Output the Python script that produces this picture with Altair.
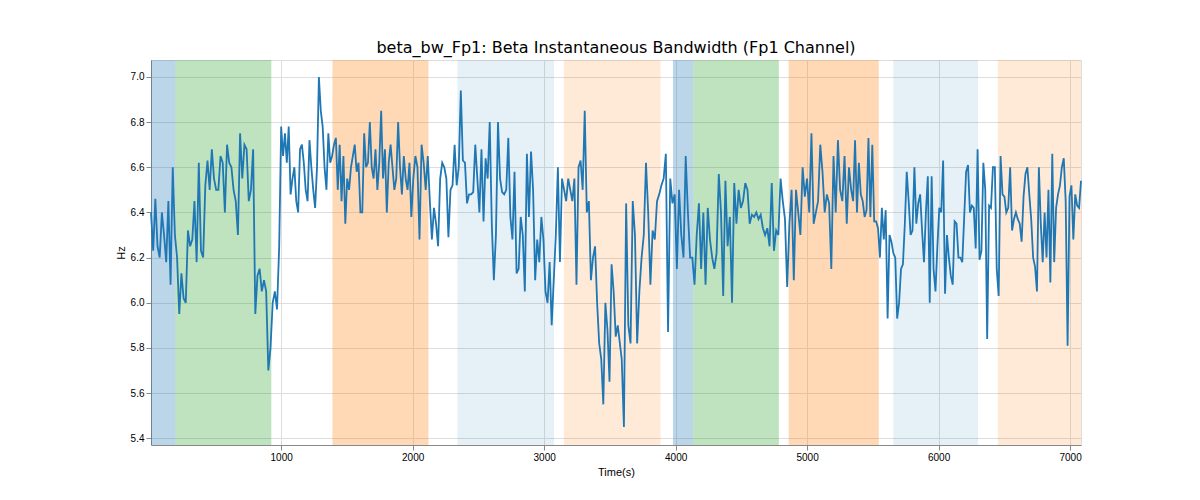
import altair as alt
import numpy as np
import pandas as pd

seg_a = [6.4, 6.23, 6.46, 6.25, 6.2, 6.4, 6.3, 6.18, 6.45, 6.08, 6.6, 6.3, 6.2, 5.95, 6.13, 6.02, 6.0, 6.32, 6.25, 6.28,
         6.45, 6.18, 6.62, 6.23, 6.2, 6.52, 6.63, 6.5, 6.68, 6.55, 6.5, 6.5, 6.65, 6.62, 6.4, 6.7, 6.62, 6.6, 6.5, 6.45,
         6.3, 6.75, 6.55, 6.7, 6.68, 6.45, 6.5, 6.68, 5.95, 6.12, 6.15, 6.05, 6.1, 6.05, 5.7, 5.8, 6.0, 6.05, 5.97, 6.25]
seg_b = [6.78, 6.65, 6.75, 6.62, 6.78, 6.48, 6.55, 6.6, 6.45, 6.4, 6.68, 6.7, 6.62, 6.5, 6.45, 6.72, 6.6, 6.5, 6.42, 6.6,
         7.0, 6.85, 6.78, 6.6, 6.5, 6.75, 6.62, 6.65, 6.7, 6.73, 6.5, 6.7, 6.45, 6.65, 6.35, 6.55, 6.5, 6.6, 6.65, 6.7,
         6.58, 6.62, 6.4, 6.4, 6.75, 6.6, 6.62, 6.8, 6.6, 6.55, 6.68, 6.5, 6.62, 6.85, 6.55, 6.68, 6.4, 6.62, 6.7, 6.6,
         6.5, 6.55, 6.8, 6.6, 6.48, 6.65, 6.55, 6.5, 6.62, 6.38]
seg_c = [6.55, 6.65, 6.6, 6.28, 6.7, 6.62, 6.5, 6.65, 6.45, 6.28, 6.42, 6.35, 6.25, 6.55, 6.62, 6.6, 6.55, 6.29, 6.5, 6.52,
         6.7, 6.52, 6.6, 6.94, 6.63, 6.62, 6.44, 6.48, 6.48, 6.49, 6.7, 6.55, 6.4, 6.68, 6.36, 6.64, 6.55, 6.8, 6.35, 6.1,
         6.3, 6.8, 6.55, 6.49, 6.48, 6.5, 6.73, 6.38, 6.28, 6.58, 6.13, 6.15, 6.38, 6.3, 6.05, 6.66, 6.38, 6.67, 6.5, 6.1,
         6.28, 6.18, 6.38, 6.28, 6.05, 6.0, 6.18, 5.9, 6.1, 6.3, 6.6, 6.18, 6.55, 6.5, 6.45, 6.55, 6.5, 6.45, 6.55, 6.08,
         6.6, 6.63, 6.5, 6.85, 6.4, 6.45, 6.1, 6.2, 6.25, 6.0, 5.82, 5.75, 5.55, 6.0, 5.88, 5.65, 6.17, 6.05, 5.85, 5.9]
seg_d = [5.75, 5.45, 6.44, 5.9, 5.82, 6.45, 6.3, 5.82, 6.05, 6.2, 6.3, 6.62, 6.4, 6.08, 6.32, 6.28, 6.45, 6.48, 6.52, 6.55,
         6.66, 5.87, 6.55, 6.44, 6.48, 6.15, 6.5, 6.3, 6.2, 6.65, 6.4, 6.2, 6.2, 6.08, 6.3, 6.44, 6.15, 6.4, 6.08, 6.42,
         6.28, 6.2, 6.15, 6.22, 6.57, 6.4, 6.03, 6.54, 6.25, 6.38, 6.0, 6.53, 6.35, 6.5, 6.42, 6.45, 6.53, 6.5, 6.35, 6.39,
         6.38, 6.4, 6.37, 6.39, 6.33, 6.3, 6.33, 6.25, 6.53, 6.23, 6.32, 6.3, 6.55, 6.45, 6.37, 6.07, 6.35, 6.5, 6.1, 6.5,
         6.4, 6.3, 6.6, 6.47, 6.55, 6.4, 6.75, 6.35, 6.4, 6.45, 6.7, 6.58, 6.4, 6.48, 6.44, 6.15, 6.65, 6.4, 6.72, 6.5,
         6.45, 6.65, 6.35, 6.6, 6.5]
seg_e = [6.45, 6.72, 6.4, 6.62, 6.48, 6.45, 6.38, 6.41, 6.73, 6.38, 6.7, 6.36, 6.36, 6.33, 6.2, 6.42, 6.28, 6.41, 5.93, 6.3,
         6.27, 6.22, 6.2, 5.93, 6.0, 6.15, 6.17, 6.35, 6.58, 6.45, 6.3, 6.32, 6.6, 6.35, 6.44, 6.48, 6.32, 6.18, 6.4, 6.56,
         6.0, 6.56, 6.15, 6.05, 6.25, 6.42, 6.4, 6.63, 6.04, 6.3, 6.2, 6.12, 6.08, 6.36, 6.35, 6.2, 6.2, 6.18, 6.38, 6.58,
         6.61, 6.4, 6.43, 6.42, 6.24, 6.68, 6.19, 6.23, 6.62, 6.5, 5.84, 6.43, 6.42, 6.6, 6.6, 6.15, 6.03, 6.65, 6.48, 6.47,
         6.4, 6.42, 6.6, 6.32, 6.37, 6.4, 6.37, 6.35, 6.27, 6.47, 6.57, 6.6, 6.48, 6.37, 6.2, 6.16, 6.05, 6.6, 6.35, 6.18,
         6.4, 6.2, 6.5, 6.09, 6.66, 6.18, 6.42, 6.48, 6.52, 6.6, 6.64, 6.45, 5.81, 6.47, 6.52, 6.28, 6.48, 6.43, 6.42, 6.54]
seg_ranges = [(10, 985), (1000, 1990), (2005, 3560), (3590, 5335), (5350, 7083)]

band_start = [10, 195, 1390, 2340, 3150, 3980, 4135, 4860, 5655, 6450]
band_end = [195, 925, 2120, 3075, 3885, 4135, 4785, 5545, 6300, 7083]
band_color = ["#1f77b4", "#2ca02c", "#ff7f0e", "#1f77b4", "#ff7f0e", "#1f77b4", "#2ca02c", "#ff7f0e", "#1f77b4", "#ff7f0e"]
band_alpha = [0.3, 0.3, 0.3, 0.11, 0.16, 0.3, 0.3, 0.3, 0.11, 0.16]

t, v = [], []
for seg, (a, b) in zip([seg_a, seg_b, seg_c, seg_d, seg_e], seg_ranges):
    t += list(np.linspace(a, b, len(seg)))
    v += seg
line_df = pd.DataFrame({"t": t, "v": v})
band_df = pd.DataFrame({"s": band_start, "e": band_end, "c": band_color, "a": band_alpha})

xs = alt.Scale(domain=[10, 7083], nice=False, zero=False)
ys = alt.Scale(domain=[5.37, 7.075], nice=False, zero=False)

bands = alt.Chart(band_df).mark_rect().encode(
    x=alt.X("s:Q", scale=xs), x2="e:Q",
    color=alt.Color("c:N", scale=None), opacity=alt.Opacity("a:Q", scale=None))

line = alt.Chart(line_df).mark_line(color="#1f77b4", strokeWidth=1.8).encode(
    x=alt.X("t:Q", scale=xs, title="Time(s)",
            axis=alt.Axis(values=[1000, 2000, 3000, 4000, 5000, 6000, 7000], format="d", titleFontWeight=400)),
    y=alt.Y("v:Q", scale=ys, title="Hz",
            axis=alt.Axis(values=[5.4, 5.6, 5.8, 6.0, 6.2, 6.4, 6.6, 6.8, 7.0], format=".1f", titleFontWeight=400)))

chart = alt.layer(bands, line).properties(
    width=930, height=385,
    title=alt.TitleParams("beta_bw_Fp1: Beta Instantaneous Bandwidth (Fp1 Channel)",
                          fontSize=16, fontWeight="normal", font="DejaVu Sans", color="black")
).configure_axis(
    grid=True, gridColor="#b0b0b0", gridOpacity=1, domainColor="black", tickColor="black",
    labelFont="DejaVu Sans", titleFont="DejaVu Sans", labelFontSize=13, titleFontSize=13,
    labelColor="black", titleColor="black", labelFlush=False
).configure_view(stroke="black", strokeWidth=1).configure(padding={"left": 107, "top": 32, "right": 100, "bottom": 5})

chart.save("out.html", embed_options={"renderer": "svg", "actions": False})
